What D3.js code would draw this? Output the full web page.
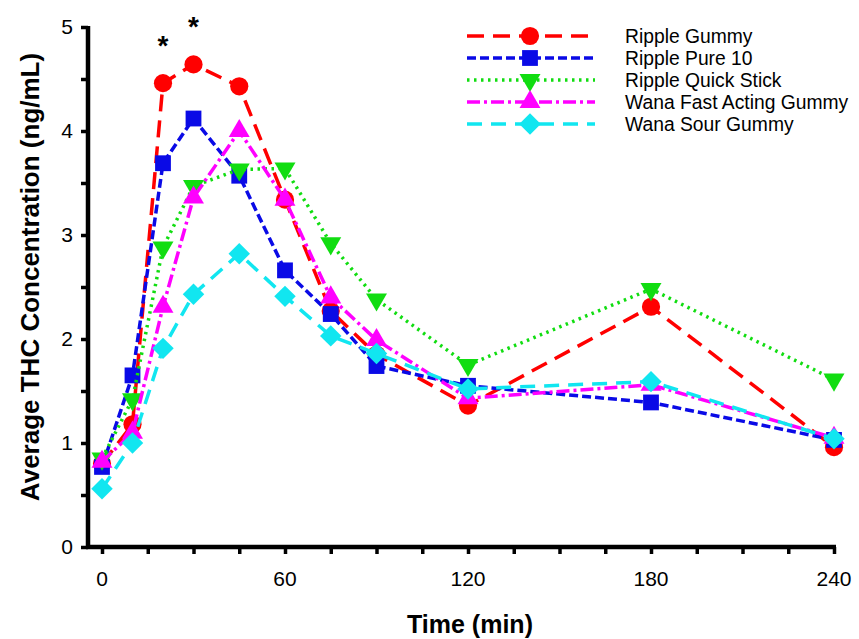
<!DOCTYPE html>
<html>
<head>
<meta charset="utf-8">
<script src="https://cdn.jsdelivr.net/npm/d3@7"></script>
<style>
  body { margin: 0; background: #fff; }
  svg { display: block; font-family: "Liberation Sans", Arial, sans-serif; }
</style>
</head>
<body>
<div id="chart"></div>
<script>
const times = [0, 10, 20, 30, 45, 60, 75, 90, 120, 180, 240]

const rippleGummy = [0.80, 1.18, 4.46, 4.64, 4.43, 3.34, 2.27, 1.85, 1.36, 2.31, 0.96]
const ripplePure10 = [0.77, 1.65, 3.69, 4.12, 3.57, 2.66, 2.24, 1.74, 1.55, 1.39, 1.03]
const rippleQuickStick = [0.85, 1.42, 2.88, 3.47, 3.63, 3.64, 2.92, 2.38, 1.75, 2.48, 1.61]
const wanaFastActing = [0.82, 1.10, 2.31, 3.36, 4.00, 3.34, 2.40, 1.99, 1.43, 1.56, 1.05]
const wanaSour = [0.56, 1.00, 1.91, 2.43, 2.82, 2.41, 2.03, 1.86, 1.52, 1.59, 1.04]

const seriesNames = ["Ripple Gummy", "Ripple Pure 10", "Ripple Quick Stick", "Wana Fast Acting Gummy", "Wana Sour Gummy"]
const xTicks = [0, 60, 120, 180, 240]
const yTicks = [0, 1, 2, 3, 4, 5]
// significance marks
const starTimes = [20, 30]

const width = 859, height = 639

const series = [
    {name: seriesNames[0], values: rippleGummy, color: "#ff0000", dash: "17,9", shape: "circle"},
    {name: seriesNames[1], values: ripplePure10, color: "#0a0ae6", dash: "9,4", shape: "square"},
    {name: seriesNames[2], values: rippleQuickStick, color: "#11dd11", dash: "2.5,4.5", shape: "down"},
    {name: seriesNames[3], values: wanaFastActing, color: "#ff00ff", dash: "13,4,3,4", shape: "up"},
    {name: seriesNames[4], values: wanaSour, color: "#11e6f0", dash: "15,9", shape: "diamond"}
]

const x = d3.scaleLinear().domain([0, 240]).range([102, 834])
const y = d3.scaleLinear().domain([0, 5]).range([547, 27])

const svg = d3.select("#chart").append("svg")
    .attr("width", width)
    .attr("height", height)

// axes
const xAxis = svg.append("g")
    .attr("transform", "translate(0,547)")
    .call(d3.axisBottom(x).tickValues(d3.range(0, 241, 15)).tickSize(7).tickFormat(""))
const yAxis = svg.append("g")
    .attr("transform", "translate(88,0)")
    .call(d3.axisLeft(y).tickValues(d3.range(0, 5.01, 0.5)).tickSize(7).tickFormat(""))

for (const g of [xAxis, yAxis]) {
    g.select(".domain").remove()
    g.selectAll(".tick line").attr("stroke", "#000").attr("stroke-width", 3.5)
}

svg.append("line")
    .attr("x1", 86).attr("x2", 836)
    .attr("y1", 547).attr("y2", 547)
    .attr("stroke", "#000").attr("stroke-width", 4.5)
svg.append("line")
    .attr("x1", 88).attr("x2", 88)
    .attr("y1", y(5) - 1).attr("y2", 549)
    .attr("stroke", "#000").attr("stroke-width", 4.5)

svg.append("g").selectAll("text")
    .data(xTicks)
    .enter().append("text")
    .attr("x", d => x(d))
    .attr("y", 586)
    .attr("text-anchor", "middle")
    .attr("font-size", 21)
    .text(d => d)

svg.append("g").selectAll("text")
    .data(yTicks)
    .enter().append("text")
    .attr("x", 73)
    .attr("y", d => y(d) + 7)
    .attr("text-anchor", "end")
    .attr("font-size", 21)
    .text(d => d)

svg.append("text")
    .attr("x", 470)
    .attr("y", 633)
    .attr("text-anchor", "middle")
    .attr("font-size", 25)
    .attr("font-weight", "bold")
    .text("Time (min)")

svg.append("text")
    .attr("transform", "translate(39,277) rotate(-90)")
    .attr("text-anchor", "middle")
    .attr("font-size", 26)
    .attr("font-weight", "bold")
    .text("Average THC Concentration (ng/mL)")

// markers
const symbolFor = function (shape) {
    if (shape === "circle") return d3.symbol(d3.symbolCircle, 260)()
    if (shape === "square") return d3.symbol(d3.symbolSquare, 250)()
    if (shape === "diamond") return d3.symbol(d3.symbolSquare, 230)()
    return d3.symbol(d3.symbolTriangle, 190)()
}
const rotateFor = function (shape) {
    if (shape === "down") return " rotate(180)"
    if (shape === "diamond") return " rotate(45)"
    return ""
}

const line = d3.line()
    .x((d, i) => x(times[i]))
    .y(d => y(d))

const plot = svg.append("g")
series.forEach(function (s) {
    const g = plot.append("g")
    g.append("path")
        .attr("d", line(s.values))
        .attr("fill", "none")
        .attr("stroke", s.color)
        .attr("stroke-width", 3.5)
        .attr("stroke-dasharray", s.dash)
    g.selectAll("path.mark")
        .data(s.values)
        .enter().append("path")
        .attr("class", "mark")
        .attr("d", symbolFor(s.shape))
        .attr("transform", (d, i) => "translate(" + x(times[i]) + "," + y(d) + ")" + rotateFor(s.shape))
        .attr("fill", s.color)
})

// asterisks above the peaks
svg.append("g").selectAll("text")
    .data(starTimes)
    .enter().append("text")
    .attr("x", d => x(d))
    .attr("y", (d, i) => y(rippleGummy[times.indexOf(d)]) - 28)
    .attr("text-anchor", "middle")
    .attr("font-size", 28)
    .attr("font-weight", "bold")
    .text("*")

// legend
const legend = svg.append("g")
const legendRow = d3.scalePoint().domain(seriesNames).range([36, 124])
series.forEach(function (s) {
    const row = legend.append("g")
        .attr("transform", "translate(0," + legendRow(s.name) + ")")
    row.append("line")
        .attr("x1", 467).attr("x2", 595)
        .attr("stroke", s.color)
        .attr("stroke-width", 3.5)
        .attr("stroke-dasharray", s.dash)
    row.append("path")
        .attr("d", symbolFor(s.shape))
        .attr("transform", "translate(530,0)" + rotateFor(s.shape))
        .attr("fill", s.color)
    row.append("text")
        .attr("x", 625)
        .attr("y", 7)
        .attr("font-size", 19.3)
        .text(s.name)
})
</script>
</body>
</html>
